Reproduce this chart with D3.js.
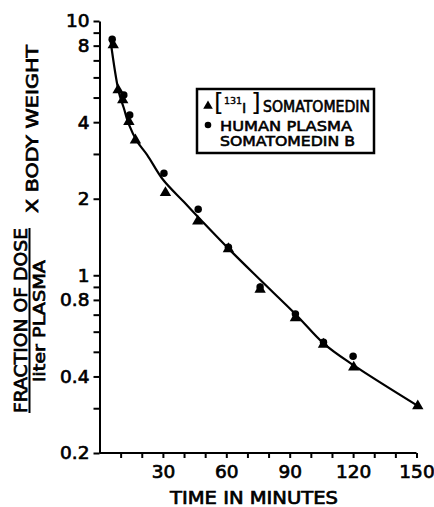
<!DOCTYPE html>
<html>
<head>
<meta charset="utf-8">
<script src="https://cdn.jsdelivr.net/npm/d3@7"></script>
<style>
body{margin:0;background:#fff;}
svg text{font-family:"DejaVu Sans",sans-serif;fill:#000;}
</style>
</head>
<body>
<svg id="chart" width="434" height="507"></svg>
<script>
// [131I] somatomedin (triangles)
var triTime  = [6.5, 8.8, 11, 13.9, 17, 31.2, 46.5, 61, 76, 92.7, 106, 120.3, 150.6];
var triValue = [8.04, 5.35, 4.89, 4.02, 3.40, 2.11, 1.63, 1.27, 0.88, 0.68, 0.535, 0.435, 0.306];
// human plasma somatomedin B (circles)
var dotTime  = [6, 11.5, 14.3, 30.5, 46.7, 61, 76, 92.7, 106, 120];
var dotValue = [8.47, 5.12, 4.27, 2.52, 1.82, 1.29, 0.90, 0.705, 0.545, 0.48];
// fitted curve
var curveTime  = [5.2, 9.1, 11.5, 13.9, 17.8, 22.6, 30, 40, 48, 62, 76, 93, 106, 120, 151];
var curveValue = [8.4, 5.27, 4.55, 3.92, 3.36, 2.97, 2.38, 1.94, 1.65, 1.25, 0.96, 0.70, 0.54, 0.444, 0.305];

var xTicks = [10, 20, 30, 40, 50, 60, 70, 80, 90, 100, 110, 120, 130, 140, 150];
var xLabels = [30, 60, 90, 120, 150];
var yTicks = [0.2, 0.3, 0.4, 0.5, 0.6, 0.7, 0.8, 0.9, 1, 2, 3, 4, 5, 6, 7, 8, 9, 10];
var yLabels = [0.2, 0.4, 0.8, 1, 2, 4, 8, 10];

var svg = d3.select("#chart");

// ================= scales
var x = d3.scaleLinear().domain([0, 150]).range([99.5, 416.5]);
var y = d3.scaleLog().domain([0.2, 10]).range([453, 21]);

// ================= legend box (drawn first, under everything)
svg.append("rect")
    .attr("x", 197).attr("y", 89)
    .attr("width", 177).attr("height", 64)
    .attr("fill", "#fff")
    .attr("stroke", "#000")
    .attr("stroke-width", 2.5);

// ================= axes
var yAxis = d3.axisLeft(y)
    .tickValues(yTicks)
    .tickSize(6).tickSizeOuter(0).tickPadding(4)
    .tickFormat(function(d){ return yLabels.indexOf(d) >= 0 ? d3.format("")(d) : ""; });

var xAxis = d3.axisBottom(x)
    .tickValues(xTicks)
    .tickSize(5).tickSizeOuter(0).tickPadding(7)
    .tickFormat(function(d){ return xLabels.indexOf(d) >= 0 ? d : ""; });

var gy = svg.append("g").attr("class", "axis y-axis")
    .attr("transform", "translate(" + x(0) + ",0)")
    .call(yAxis);

var gx = svg.append("g").attr("class", "axis x-axis")
    .attr("transform", "translate(0," + y(0.2) + ")")
    .call(xAxis);

svg.selectAll(".axis path, .axis line").attr("stroke", "#000").attr("stroke-width", 2);
svg.selectAll(".axis text")
    .attr("font-family", "DejaVu Sans").attr("font-size", 18.5)
    .attr("stroke", "#000").attr("stroke-width", 0.7);

// extend x axis line to the y axis
gx.select(".domain").attr("d", "M" + x(0) + ",0H" + x(150));

// ================= fitted line
var line = d3.line()
    .x(function(d, i){ return x(curveTime[i]); })
    .y(function(d, i){ return y(curveValue[i]); })
    .curve(d3.curveCatmullRom.alpha(0.5));

svg.append("path")
    .attr("d", line(curveTime))
    .attr("fill", "none")
    .attr("stroke", "#000")
    .attr("stroke-width", 2.2);

// ================= points
var tri = d3.symbol().type(d3.symbolTriangle).size(56);
var dot = d3.symbol().type(d3.symbolCircle).size(44);

svg.append("g").selectAll("path")
    .data(dotTime)
    .enter().append("path")
    .attr("d", dot)
    .attr("transform", function(d, i){ return "translate(" + x(d) + "," + y(dotValue[i]) + ")"; })
    .attr("fill", "#000");

svg.append("g").selectAll("path")
    .data(triTime)
    .enter().append("path")
    .attr("d", tri)
    .attr("transform", function(d, i){ return "translate(" + x(d) + "," + y(triValue[i]) + ")"; })
    .attr("fill", "#000");

// ================= axis titles
svg.append("text")
    .attr("x", 254).attr("y", 504)
    .attr("text-anchor", "middle")
    .attr("font-size", 17)
    .attr("textLength", 168).attr("lengthAdjust", "spacingAndGlyphs")
    .attr("stroke", "#000").attr("stroke-width", 0.7)
    .text("TIME IN MINUTES");

var yt = svg.append("g");
yt.append("text")
    .attr("transform", "translate(27,320.5) rotate(-90)")
    .attr("text-anchor", "middle")
    .attr("font-size", 17.5)
    .attr("textLength", 185).attr("lengthAdjust", "spacingAndGlyphs")
    .attr("stroke", "#000").attr("stroke-width", 0.7)
    .text("FRACTION OF DOSE");
yt.append("line")
    .attr("x1", 29.5).attr("x2", 29.5)
    .attr("y1", 228).attr("y2", 413)
    .attr("stroke", "#000").attr("stroke-width", 2);
yt.append("text")
    .attr("transform", "translate(45,321) rotate(-90)")
    .attr("text-anchor", "middle")
    .attr("font-size", 16)
    .attr("textLength", 122).attr("lengthAdjust", "spacingAndGlyphs")
    .attr("stroke", "#000").attr("stroke-width", 0.7)
    .text("liter PLASMA");
yt.append("text")
    .attr("transform", "translate(38,129) rotate(-90)")
    .attr("text-anchor", "middle")
    .attr("font-size", 16)
    .attr("textLength", 168).attr("lengthAdjust", "spacingAndGlyphs")
    .attr("stroke", "#000").attr("stroke-width", 0.7)
    .text("X  BODY  WEIGHT");

// ================= legend entries
var lg = svg.append("g").attr("class", "legend");
lg.append("path").attr("d", d3.symbol().type(d3.symbolTriangle).size(40))
    .attr("transform", "translate(208,106)");
lg.append("path").attr("d", d3.symbol().type(d3.symbolCircle).size(34))
    .attr("transform", "translate(208,125)");
lg.append("text").attr("x", 214).attr("y", 111).attr("font-size", 25)
    .attr("font-family", "DejaVu Sans").text("[");
lg.append("text").attr("x", 224).attr("y", 104).attr("font-size", 9.5)
    .attr("stroke", "#000").attr("stroke-width", 0.4).text("131");
lg.append("text").attr("x", 242).attr("y", 113).attr("font-size", 14.5)
    .attr("font-family", "DejaVu Serif").attr("stroke", "#000").attr("stroke-width", 0.5).text("I");
lg.append("text").attr("x", 251).attr("y", 111).attr("font-size", 25)
    .attr("font-family", "DejaVu Sans").text("]");
lg.append("text").attr("x", 263).attr("y", 112).attr("font-size", 15)
    .attr("textLength", 107).attr("lengthAdjust", "spacingAndGlyphs")
    .attr("stroke", "#000").attr("stroke-width", 0.6).text("SOMATOMEDIN");
lg.append("text").attr("x", 220).attr("y", 131).attr("font-size", 14.5)
    .attr("textLength", 132).attr("lengthAdjust", "spacingAndGlyphs")
    .attr("stroke", "#000").attr("stroke-width", 0.6).text("HUMAN  PLASMA");
lg.append("text").attr("x", 220).attr("y", 146).attr("font-size", 14.5)
    .attr("textLength", 135).attr("lengthAdjust", "spacingAndGlyphs")
    .attr("stroke", "#000").attr("stroke-width", 0.6).text("SOMATOMEDIN  B");
</script>
</body>
</html>
